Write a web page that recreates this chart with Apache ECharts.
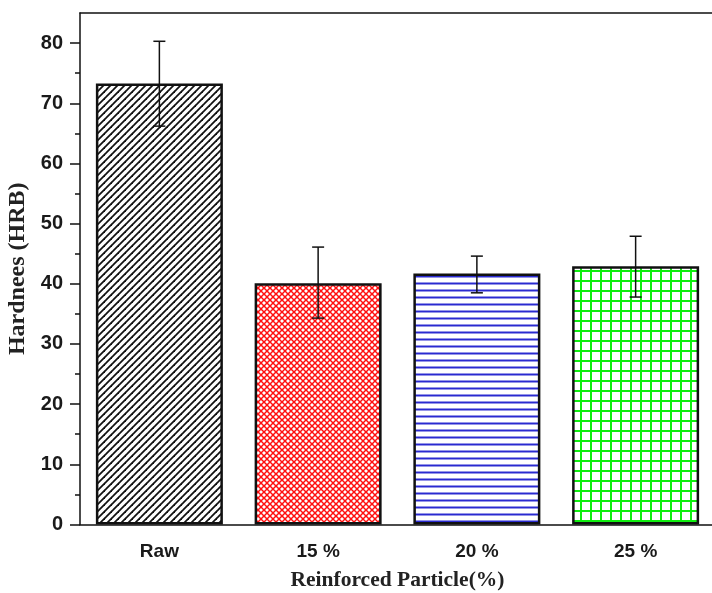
<!DOCTYPE html>
<html>
<head>
    <meta charset="UTF-8">
    <title>Hardness</title>
    <script src="https://cdn.jsdelivr.net/npm/echarts@6/dist/echarts.min.js"></script>
    <style>
        html, body { margin: 0; padding: 0; background: #fff; }
        #chart { width: 712px; height: 593px; }
    </style>
</head>
<body>
<div id="chart"></div>
<script>
// data
const categories = ['Raw', '15 %', '20 %', '25 %'];
const hardness = [73.3, 40.1, 41.7, 42.9];
const errLow = [66.2, 34.3, 38.5, 37.8];
const errHigh = [80.3, 46.1, 44.6, 47.9];
const yTicks = [0, 10, 20, 30, 40, 50, 60, 70, 80];
const yMinorTicks = [5, 15, 25, 35, 45, 55, 65, 75];

// hatch fills
function makePattern(size, draw) {
    const c = document.createElement('canvas');
    c.width = size;
    c.height = size;
    const ctx = c.getContext('2d');
    ctx.fillStyle = '#fff';
    ctx.fillRect(0, 0, size, size);
    draw(ctx, size);
    return { image: c, repeat: 'repeat' };
}

function line(ctx, x1, y1, x2, y2) {
    ctx.beginPath();
    ctx.moveTo(x1, y1);
    ctx.lineTo(x2, y2);
    ctx.stroke();
}

const fills = [
    makePattern(7, (ctx, s) => {
        ctx.strokeStyle = '#111';
        ctx.lineWidth = 1.8;
        line(ctx, -1, s + 1, s + 1, -1);
        line(ctx, -1, 1, 1, -1);
        line(ctx, s - 1, s + 1, s + 1, s - 1);
    }),
    makePattern(6, (ctx, s) => {
        ctx.strokeStyle = '#ff1010';
        ctx.lineWidth = 1.5;
        line(ctx, -1, s + 1, s + 1, -1);
        line(ctx, -1, -1, s + 1, s + 1);
        line(ctx, -1, 1, 1, -1);
        line(ctx, s - 1, s + 1, s + 1, s - 1);
        line(ctx, s - 1, -1, s + 1, 1);
        line(ctx, -1, s - 1, 1, s + 1);
    }),
    makePattern(7, (ctx, s) => {
        ctx.strokeStyle = '#2a2ad0';
        ctx.lineWidth = 2;
        line(ctx, 0, 3.5, s, 3.5);
    }),
    makePattern(10, (ctx, s) => {
        ctx.strokeStyle = '#10ee10';
        ctx.lineWidth = 2;
        line(ctx, 0, 1, s, 1);
        line(ctx, 1, 0, 1, s);
    })
];

const chart = echarts.init(document.getElementById('chart'));

const tickFont = { fontFamily: 'Liberation Sans', fontWeight: 'bold', color: '#1a1a1a' };
const axisColor = '#111';

const option = {
    animation: false,
    backgroundColor: '#fff',
    grid: {
        left: 80,
        top: 13,
        width: 635,
        height: 511.5,
        outerBoundsMode: 'none',
        containLabel: false
    },
    xAxis: [{
        type: 'category',
        data: categories,
        name: 'Reinforced Particle(%)',
        nameLocation: 'middle',
        nameGap: 45,
        nameTextStyle: { fontFamily: 'Liberation Serif', fontWeight: 'bold', fontSize: 21.5, color: '#222' },
        axisLine: { lineStyle: { color: axisColor, width: 1.5 } },
        axisTick: { alignWithLabel: true, length: 10, lineStyle: { color: axisColor, width: 1.5 } },
        axisLabel: Object.assign({ margin: 18, fontSize: 19 }, tickFont)
    }, {
        type: 'category',
        data: categories,
        position: 'bottom',
        axisLine: { show: false },
        axisTick: { length: 6, lineStyle: { color: axisColor, width: 1.5 } },
        axisLabel: { show: false }
    }, {
        // top frame line
        type: 'category',
        data: categories,
        position: 'top',
        axisLine: { show: true, lineStyle: { color: axisColor, width: 1.5 } },
        axisTick: { show: false },
        axisLabel: { show: false }
    }],
    yAxis: [{
        type: 'value',
        min: 0,
        max: 85,
        name: 'Hardnees (HRB)',
        nameLocation: 'middle',
        nameGap: 47,
        nameTextStyle: { fontFamily: 'Liberation Serif', fontWeight: 'bold', fontSize: 24, color: '#222' },
        splitLine: { show: false },
        axisLine: { show: true, lineStyle: { color: axisColor, width: 1.5 } },
        axisTick: { show: true, length: 10, customValues: yTicks, lineStyle: { color: axisColor, width: 1.5 } },
        axisLabel: Object.assign({ margin: 17, fontSize: 20, customValues: yTicks }, tickFont)
    }, {
        type: 'value',
        min: 0,
        max: 85,
        position: 'left',
        splitLine: { show: false },
        axisLine: { show: false },
        axisTick: { show: true, length: 5, customValues: yMinorTicks, lineStyle: { color: axisColor, width: 1.5 } },
        axisLabel: { show: false }
    }],
    series: [{
        type: 'bar',
        barWidth: '80%',
        data: hardness.map((v, i) => ({
            value: v,
            itemStyle: { color: fills[i] }
        })),
        itemStyle: { borderColor: '#111', borderWidth: 2.5 }
    }, {
        type: 'custom',
        data: categories.map((c, i) => [i, errLow[i], errHigh[i]]),
        z: 10,
        renderItem: function (params, api) {
            const lo = api.coord([api.value(0), api.value(1)]);
            const hi = api.coord([api.value(0), api.value(2)]);
            const half = 6;
            const style = { stroke: '#111', lineWidth: 1.5 };
            return {
                type: 'group',
                children: [
                    { type: 'line', shape: { x1: lo[0], y1: lo[1], x2: hi[0], y2: hi[1] }, style: style },
                    { type: 'line', shape: { x1: lo[0] - half, y1: lo[1], x2: lo[0] + half, y2: lo[1] }, style: style },
                    { type: 'line', shape: { x1: hi[0] - half, y1: hi[1], x2: hi[0] + half, y2: hi[1] }, style: style }
                ]
            };
        }
    }]
};

chart.setOption(option);
</script>
</body>
</html>
